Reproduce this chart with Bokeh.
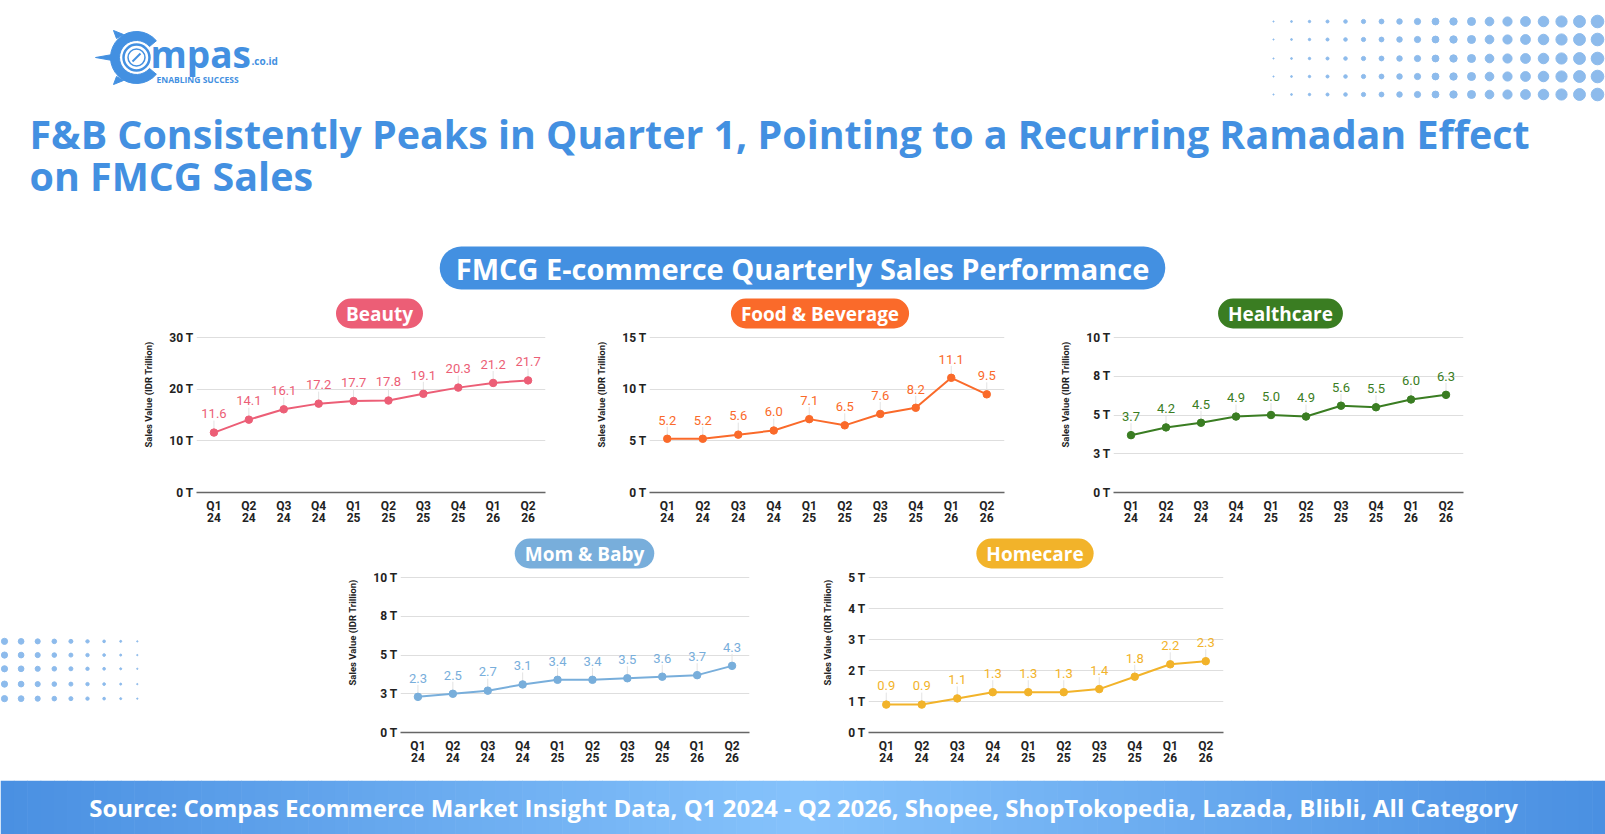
import numpy as np
from bokeh.plotting import figure
from bokeh.models import FactorRange, Range1d, Label, Spacer
from bokeh.layouts import column, row
from bokeh.core.properties import value
from bokeh.embed import file_html
from bokeh.resources import INLINE

# ---------------- data ----------------
quarters = ["Q1\n24", "Q2\n24", "Q3\n24", "Q4\n24", "Q1\n25",
            "Q2\n25", "Q3\n25", "Q4\n25", "Q1\n26", "Q2\n26"]
beauty = [11.6, 14.1, 16.1, 17.2, 17.7, 17.8, 19.1, 20.3, 21.2, 21.7]
food_bev = [5.2, 5.2, 5.6, 6.0, 7.1, 6.5, 7.6, 8.2, 11.1, 9.5]
healthcare = [3.7, 4.2, 4.5, 4.9, 5.0, 4.9, 5.6, 5.5, 6.0, 6.3]
mom_baby = [2.3, 2.5, 2.7, 3.1, 3.4, 3.4, 3.5, 3.6, 3.7, 4.3]
homecare = [0.9, 0.9, 1.1, 1.3, 1.3, 1.3, 1.4, 1.8, 2.2, 2.3]

beauty_ticks = [0, 10, 20, 30]
beauty_tick_labels = ["0 T", "10 T", "20 T", "30 T"]
fnb_ticks = [0, 5, 10, 15]
fnb_tick_labels = ["0 T", "5 T", "10 T", "15 T"]
health_ticks = [0, 2.5, 5, 7.5, 10]
health_tick_labels = ["0 T", "3 T", "5 T", "8 T", "10 T"]
mom_ticks = [0, 2.5, 5, 7.5, 10]
mom_tick_labels = ["0 T", "3 T", "5 T", "8 T", "10 T"]
home_ticks = [0, 1, 2, 3, 4, 5]
home_tick_labels = ["0 T", "1 T", "2 T", "3 T", "4 T", "5 T"]

title_lines = ["F&B Consistently Peaks in Quarter 1, Pointing to a Recurring Ramadan Effect",
               "on FMCG Sales"]
chart_title = "FMCG E-commerce Quarterly Sales Performance"
source_text = ("Source: Compas Ecommerce Market Insight Data, Q1 2024 - Q2 2026, Shopee, "
               "ShopTokopedia, Lazada, Blibli, All Category")

# ---------------- style ----------------
BLUE = "#4390E1"
DOT = "#8DBBEC"
HEAD_FONT = "Open Sans"
AX_FONT = "Roboto"
W = 1605
H_HEAD, H_ROW1, H_ROW2 = 296, 236, 248
H_FOOT = 834 - H_HEAD - H_ROW1 - H_ROW2
LEFT, RIGHT = 66, 4
DATA_H = 155  # px from 0 to top tick
BL = 0.36     # alphabetic-baseline correction (fraction of font size)


def deco_fig(w, h):
    p = figure(width=w, height=h, x_range=Range1d(0, w), y_range=Range1d(h, 0),
               x_axis_type=None, y_axis_type=None, toolbar_location=None,
               output_backend="svg", min_border=0)
    p.title_location = None
    p.outline_line_color = None
    p.background_fill_color = "white"
    p.border_fill_color = "white"
    return p


def chart(name, vals, ticks, tick_labels, color, frame_w, frame_h, bottom, pill_dx):
    ymax = ticks[-1]
    y_end = ymax * frame_h / DATA_H
    p = figure(width=LEFT + frame_w + RIGHT, height=frame_h + bottom,
               x_range=FactorRange(factors=quarters), y_range=Range1d(0, y_end),
               toolbar_location=None, output_backend="svg",
               min_border_left=LEFT, min_border_right=RIGHT,
               min_border_top=0, min_border_bottom=bottom)
    p.title_location = None
    p.outline_line_color = None
    p.background_fill_color = "white"
    p.border_fill_color = "white"
    p.xgrid.visible = False
    p.ygrid.grid_line_color = "#dedede"
    p.ygrid.grid_line_width = 1

    p.yaxis.ticker = ticks
    p.yaxis.major_label_overrides = {t: l for t, l in zip(ticks, tick_labels)}
    p.yaxis.axis_line_color = None
    p.yaxis.major_tick_line_color = None
    p.yaxis.minor_tick_line_color = None
    p.yaxis.major_tick_out = 0
    p.yaxis.major_tick_in = 0
    p.yaxis.major_label_standoff = 3
    p.yaxis.major_label_text_font = AX_FONT
    p.yaxis.major_label_text_font_style = "bold"
    p.yaxis.major_label_text_font_size = "12px"
    p.yaxis.major_label_text_color = "#222222"
    p.yaxis.axis_label = "Sales Value (IDR Trillion)"
    p.yaxis.axis_label_text_font = AX_FONT
    p.yaxis.axis_label_text_font_style = "bold"
    p.yaxis.axis_label_text_font_size = "9.5px"
    p.yaxis.axis_label_text_color = "#222222"
    p.yaxis.axis_label_standoff = 12

    p.xaxis.axis_line_color = "#666666"
    p.xaxis.axis_line_width = 1.3
    p.xaxis.major_tick_line_color = None
    p.xaxis.minor_tick_line_color = None
    p.xaxis.major_label_standoff = 0
    p.xaxis.major_label_text_font = AX_FONT
    p.xaxis.major_label_text_font_style = "bold"
    p.xaxis.major_label_text_font_size = "12px"
    p.xaxis.major_label_text_color = "#222222"
    p.xaxis.major_label_text_line_height = 0.9

    lead = ymax * 12 / DATA_H
    p.segment(x0=quarters, y0=vals, x1=quarters, y1=[v + lead for v in vals],
              line_color="#e3e3e3", line_width=1)
    p.line(x=quarters, y=vals, line_color=color, line_width=2)
    p.scatter(x=quarters, y=vals, size=7.5, fill_color=color, line_color=color)
    p.text(x=quarters, y=vals, text=[f"{v:.1f}" for v in vals],
           text_align="center", text_baseline="alphabetic", y_offset=-14 - BL * 13,
           text_font=value(AX_FONT), text_font_size="13px", text_color=color)

    step = frame_w / len(quarters)
    p.add_layout(Label(x=len(quarters) / 2 + pill_dx / step, y=ymax * 179 / DATA_H,
                       text=name, text_align="center", text_baseline="middle",
                       text_font=HEAD_FONT, text_font_style="bold", text_font_size="19px",
                       text_color="white", background_fill_color=color,
                       padding=(10, 2), border_radius=15))
    return p


# ---------------- header ----------------
hdr = deco_fig(W, H_HEAD)
# logo
hdr.annular_wedge(x=[136], y=[57], inner_radius=17, outer_radius=26,
                  start_angle=0.7, end_angle=2 * np.pi - 0.7, color=BLUE)
hdr.patches(xs=[[95, 112, 112], [113, 116, 123], [113, 116, 123]],
            ys=[[57, 54, 60], [30, 38, 34], [84, 76, 80]], color=BLUE)
hdr.circle(x=[136], y=[57], radius=13, fill_color="white", line_color=BLUE, line_width=2.5)
hdr.circle(x=[136], y=[57], radius=8.5, fill_color=None, line_color=BLUE, line_width=1.5)
hdr.segment(x0=[132], y0=[61], x1=[140], y1=[53], line_color=BLUE, line_width=2)
hdr.text(x=[150], y=[66 - BL * 37], text=["mpas"], text_font=value(HEAD_FONT),
         text_font_style="bold", text_font_size="37px", text_color=BLUE,
         text_baseline="alphabetic")
hdr.text(x=[251], y=[64 - BL * 10], text=[".co.id"], text_font=value(HEAD_FONT),
         text_font_style="bold", text_font_size="10px", text_color=BLUE,
         text_baseline="alphabetic")
hdr.text(x=[156], y=[82 - BL * 8.5], text=["ENABLING SUCCESS"], text_font=value(HEAD_FONT),
         text_font_style="bold", text_font_size="8.5px", text_color=BLUE,
         text_baseline="alphabetic")
# decorative dots top-right
dot_sizes = [1.2, 1.8, 2.4, 3.0, 3.6, 4.2, 4.8, 5.5, 6.2, 6.8, 7.4, 8.0, 8.6, 9.2,
             9.8, 10.5, 11.2, 11.9, 12.6]
dot_rows = [21, 39, 58, 76, 94]
dx_, dy_, ds_ = [], [], []
for r in dot_rows:
    for i, s in enumerate(dot_sizes):
        dx_.append(1273 + 18 * i)
        dy_.append(r)
        ds_.append(s)
hdr.scatter(x=dx_, y=dy_, size=ds_, color=DOT)
# title
hdr.text(x=[29, 29], y=[148 - BL * 39.4, 190 - BL * 39.4], text=title_lines,
         text_font=value(HEAD_FONT), text_font_style="bold", text_font_size="39.4px",
         text_color=BLUE, text_baseline="alphabetic")
hdr.add_layout(Label(x=802, y=267.5, text=chart_title, text_align="center",
                     text_baseline="middle", text_font=HEAD_FONT, text_font_style="bold",
                     text_font_size="29px", text_color="white", background_fill_color=BLUE,
                     padding=(16, 2), border_radius=22))

# ---------------- charts ----------------
c_beauty = chart("Beauty", beauty, beauty_ticks, beauty_tick_labels, "#EC5E76", 349, 196, 40, 8.5)
c_fnb = chart("Food & Beverage", food_bev, fnb_ticks, fnb_tick_labels, "#FA6A2A", 355, 196, 40, -7)
c_health = chart("Healthcare", healthcare, health_ticks, health_tick_labels, "#3A7D22", 350, 196, 40, -8)
c_mom = chart("Mom & Baby", mom_baby, mom_ticks, mom_tick_labels, "#78AEDB", 349, 200, 48, 9.5)
c_home = chart("Homecare", homecare, home_ticks, home_tick_labels, "#F2B32A", 355, 200, 48, -11)

# left decorative dots
left = deco_fig(334, H_ROW2)
ld_sizes = [6.2, 5.7, 5.1, 4.6, 4.0, 3.4, 2.7, 2.0, 1.3]
ld_rows = [135, 152, 169, 188, 206]
lx, ly, ls = [], [], []
for r in ld_rows:
    for i, s in enumerate(ld_sizes):
        lx.append(4 + 16.6 * i)
        ly.append(r)
        ls.append(s)
left.scatter(x=lx, y=ly, size=ls, color=DOT)

# ---------------- footer ----------------
foot = deco_fig(W, H_FOOT)
n_strips = 120
edges = np.linspace(0, W, n_strips + 1)
c_edge = np.array([74, 144, 226])
c_mid = np.array([134, 195, 252])
cols = []
for i in range(n_strips):
    t = abs((edges[i] + edges[i + 1]) / 2 - W / 2) / (W / 2)
    c = (c_mid * (1 - t) + c_edge * t).astype(int)
    cols.append("#%02x%02x%02x" % tuple(c))
foot.quad(left=edges[:-1], right=edges[1:] + 0.6, top=[0] * n_strips,
          bottom=[H_FOOT] * n_strips, fill_color=cols, line_color=None)
foot.text(x=[803], y=[27], text=[source_text], text_font=value(HEAD_FONT),
          text_font_style="bold", text_font_size="24px", text_color="white",
          text_align="center", text_baseline="middle")

layout = column(
    hdr,
    row(Spacer(width=130, height=H_ROW1), c_beauty, Spacer(width=34, height=H_ROW1),
        c_fnb, Spacer(width=39, height=H_ROW1), c_health),
    row(left, c_mom, Spacer(width=49, height=H_ROW2), c_home),
    foot,
)

open("out.html", "w").write(file_html(layout, INLINE))
